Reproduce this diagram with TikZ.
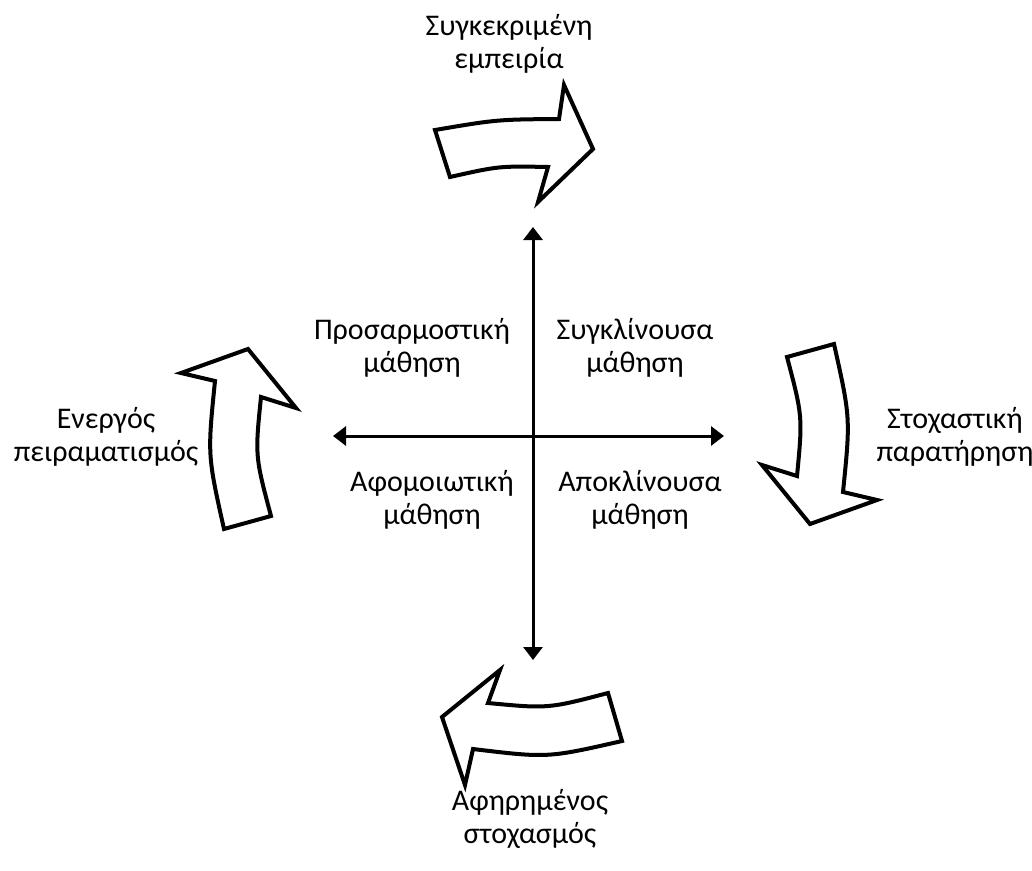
\documentclass[tikz,border=0pt]{standalone}
\usepackage{fontspec}
\setmainfont{Carlito}
\usetikzlibrary{arrows.meta}
\tikzset{
  axisline/.style={line width=3pt,{Triangle[width=19pt,length=13pt]}-{Triangle[width=19pt,length=13pt]}},
  bigarrow/.style={draw=black,fill=white,line width=4pt,line join=miter},
  lbl/.style={align=center,inner sep=0pt,font=\fontsize{30}{33}\selectfont}
}
\begin{document}
\begin{tikzpicture}[x=1pt,y=-1pt]
\useasboundingbox (0,0) rectangle (1032,870);
% axes
\coordinate (axT) at (533,227);
\coordinate (axB) at (533,660);
\coordinate (axL) at (333,436);
\coordinate (axR) at (724,436);
\draw[axisline] (axB) -- (axT);
\draw[axisline] (axL) -- (axR);
% top arrow (pointing right)
\draw[bigarrow] (435,130) .. controls (497,119.5) .. (559,119) -- (564,85) -- (593,149) -- (538,202) -- (548,167) .. controls (499,166) .. (450,177) -- cycle;
% right arrow (pointing down)
\draw[bigarrow] (787,357) -- (834,344) .. controls (850.5,418) .. (843,492) -- (877,500) -- (810,524) -- (762,465) -- (797,476) .. controls (802.7,416.5) .. cycle;
% bottom arrow (pointing left)
\draw[bigarrow] (608,693) -- (622,741) .. controls (547.5,758) .. (473,749) -- (465,785) -- (442,717) -- (500,670) -- (488,703) .. controls (548,708.7) .. cycle;
% left arrow (pointing up)
\draw[bigarrow] (271,516) -- (224,529) .. controls (207.5,455) .. (215,381) -- (181,373) -- (248,349) -- (296,408) -- (261,397) .. controls (255,456) .. cycle;
% labels
\node[lbl] (tConc) at (509,44) {Συγκεκριμένη\\εμπειρία};
\node[lbl] (tRefl) at (955,437) {Στοχαστική\\παρατήρηση};
\node[lbl] (tAbs) at (530,819) {Αφηρημένος\\στοχασμός};
\node[lbl] (tAct) at (106,437) {Ενεργός\\πειραματισμός};
\node[lbl] (qTL) at (412,348) {Προσαρμοστική\\μάθηση};
\node[lbl] (qTR) at (635,348) {Συγκλίνουσα\\μάθηση};
\node[lbl] (qBL) at (432,500) {Αφομοιωτική\\μάθηση};
\node[lbl] (qBR) at (640,500) {Αποκλίνουσα\\μάθηση};
\end{tikzpicture}
\end{document}
